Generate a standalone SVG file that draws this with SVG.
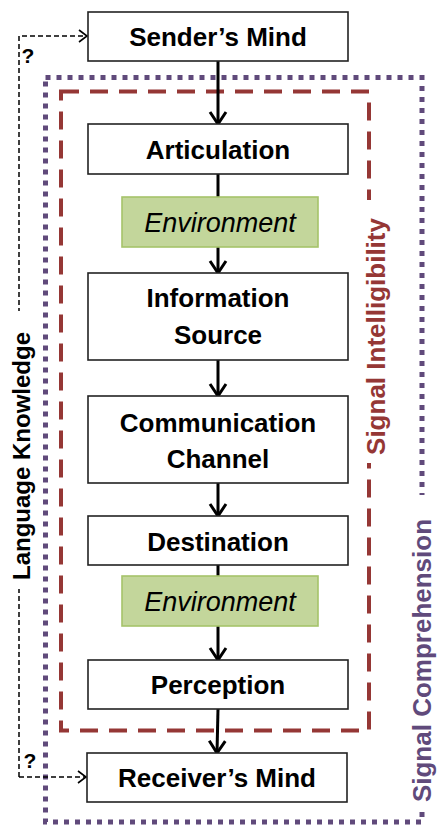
<svg xmlns="http://www.w3.org/2000/svg" width="437" height="826" viewBox="0 0 437 826">
<defs>
<style>
.box{fill:#fff;stroke:#222;stroke-width:1.6}
.env{fill:#c3d69b;stroke:#a6c36a;stroke-width:1.6}
.t{font-family:"Liberation Sans",Arial,sans-serif;font-weight:bold;font-size:26px;fill:#000;text-anchor:middle}
.ti{font-family:"Liberation Sans",Arial,sans-serif;font-style:italic;font-size:27px;fill:#000;text-anchor:middle}
.flow{stroke:#000;stroke-width:3;fill:none;marker-end:url(#arr)}
.plain{stroke:#000;stroke-width:3;fill:none}
.dash{stroke:#000;stroke-width:1.5;fill:none;stroke-dasharray:5 3}
.lab{font-family:"Liberation Sans",Arial,sans-serif;font-weight:bold;text-anchor:middle}
</style>
<marker id="arr" viewBox="0 0 20 20" refX="16" refY="10" markerWidth="20" markerHeight="20" markerUnits="userSpaceOnUse" orient="auto">
<path d="M4,2 L16,10 L4,18" fill="none" stroke="#000" stroke-width="3"/>
</marker>
<marker id="arrs" viewBox="0 0 12 14" refX="10" refY="7" markerWidth="12" markerHeight="14" markerUnits="userSpaceOnUse" orient="auto">
<path d="M2,1 L10,7 L2,13" fill="none" stroke="#000" stroke-width="1.6"/>
</marker>
</defs>
<rect width="437" height="826" fill="#fff"/>

<g id="regions">
<rect x="45.5" y="77.5" width="376.5" height="744.5" fill="none" stroke="#604a7b" stroke-width="5" stroke-dasharray="5 6"/>
<rect x="61" y="91.5" width="308" height="639" fill="none" stroke="#953735" stroke-width="4" stroke-dasharray="18 11"/>
<rect x="359" y="200" width="36" height="263" fill="#fff"/>
<rect x="405" y="495" width="32" height="317" fill="#fff"/>
<text class="lab" font-size="26" fill="#953735" transform="translate(385,336.5) rotate(-90)">Signal Intelligibility</text>
<text class="lab" font-size="26" fill="#604a7b" transform="translate(431,660.5) rotate(-90)">Signal Comprehension</text>
</g>

<g id="connectors">
<line class="flow" x1="218" y1="61" x2="218" y2="124"/>
<line class="plain" x1="218" y1="174" x2="218" y2="197"/>
<line class="flow" x1="218" y1="247" x2="218" y2="273"/>
<line class="flow" x1="218" y1="360" x2="218" y2="396"/>
<line class="flow" x1="218" y1="483" x2="218" y2="516"/>
<line class="plain" x1="218" y1="565" x2="218" y2="576"/>
<line class="flow" x1="218" y1="626" x2="218" y2="660"/>
<line class="flow" x1="218" y1="709" x2="217" y2="753"/>
<path class="dash" d="M19,777 L19,36 L87,36" marker-end="url(#arrs)"/>
<line class="dash" x1="19" y1="777" x2="86" y2="777" marker-end="url(#arrs)"/>
<rect x="7" y="311" width="27" height="278" fill="#fff"/>
<text class="lab" font-size="24" fill="#000" transform="translate(29.5,456) rotate(-90)">Language Knowledge</text>
<text class="lab" font-size="21" x="28" y="63">?</text>
<text class="lab" font-size="21" x="30" y="768">?</text>
</g>

<g id="sender"><rect class="box" x="88" y="12" width="260" height="49"/><text class="t" x="218" y="45.5">Sender’s Mind</text></g>
<g id="articulation"><rect class="box" x="88" y="124" width="260" height="50"/><text class="t" x="218" y="159">Articulation</text></g>
<g id="environment1"><rect class="env" x="122" y="197" width="196" height="50"/><text class="ti" x="220" y="231.5">Environment</text></g>
<g id="information-source"><rect class="box" x="88" y="273" width="260" height="87"/><text class="t" x="218" y="307">Information</text><text class="t" x="218" y="344">Source</text></g>
<g id="communication-channel"><rect class="box" x="88" y="396" width="260" height="87"/><text class="t" x="218" y="432">Communication</text><text class="t" x="218" y="468">Channel</text></g>
<g id="destination"><rect class="box" x="88" y="516" width="260" height="49"/><text class="t" x="218" y="551">Destination</text></g>
<g id="environment2"><rect class="env" x="122" y="576" width="196" height="50"/><text class="ti" x="220" y="611">Environment</text></g>
<g id="perception"><rect class="box" x="88" y="660" width="260" height="49"/><text class="t" x="218" y="694">Perception</text></g>
<g id="receiver"><rect class="box" x="87" y="753" width="260" height="49"/><text class="t" x="217" y="787">Receiver’s Mind</text></g>
</svg>
